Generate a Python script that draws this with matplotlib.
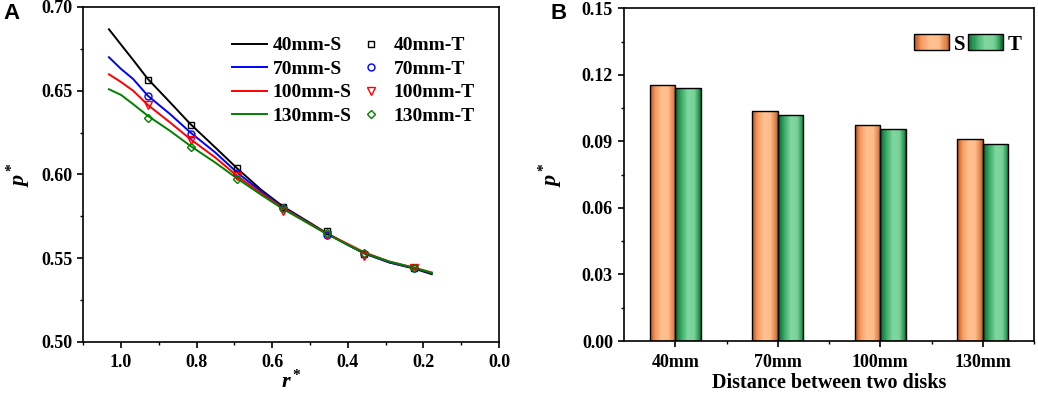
import numpy as np
import matplotlib
matplotlib.use("Agg")
import matplotlib.pyplot as plt
from matplotlib.patches import Rectangle
from matplotlib.legend_handler import HandlerBase
from matplotlib.colors import LinearSegmentedColormap
from matplotlib.ticker import MultipleLocator, FormatStrFormatter

plt.rcParams['font.family'] = ['Liberation Serif', 'DejaVu Serif']
plt.rcParams['font.weight'] = 'bold'
plt.rcParams['axes.labelweight'] = 'bold'
plt.rcParams['mathtext.fontset'] = 'custom'
plt.rcParams['mathtext.it'] = 'Liberation Serif:italic:bold'
plt.rcParams['mathtext.rm'] = 'Liberation Serif:bold'

# ---- Panel A data ----
r_line = [1.032, 1.0, 0.968, 0.929, 0.87, 0.816, 0.75, 0.692, 0.63, 0.572,
          0.51, 0.456, 0.40, 0.356, 0.29, 0.224, 0.178]
p_40_s = [0.6867, 0.6775, 0.6684, 0.657, 0.643, 0.630, 0.616, 0.6035, 0.591, 0.581,
          0.5725, 0.565, 0.558, 0.5528, 0.5475, 0.5438, 0.5405]
p_70_s = [0.670, 0.663, 0.657, 0.647, 0.636, 0.625, 0.613, 0.601, 0.590, 0.5805,
          0.572, 0.5648, 0.558, 0.553, 0.5475, 0.544, 0.5410]
p_100_s = [0.6598, 0.6552, 0.650, 0.6415, 0.631, 0.621, 0.610, 0.599, 0.589, 0.580,
           0.5718, 0.5648, 0.5585, 0.5535, 0.548, 0.5443, 0.5415]
p_130_s = [0.6509, 0.6475, 0.642, 0.635, 0.626, 0.617, 0.607, 0.5975, 0.588, 0.5795,
           0.5715, 0.5645, 0.558, 0.553, 0.548, 0.5443, 0.5413]

r_pts = [0.929, 0.816, 0.692, 0.572, 0.456, 0.356, 0.224]
p_40_t = [0.6564, 0.6296, 0.6037, 0.5806, 0.5660, 0.5528, 0.5443]
p_70_t = [0.6469, 0.6244, 0.6010, 0.5800, 0.5640, 0.5525, 0.5442]
p_100_t = [0.6413, 0.6208, 0.5990, 0.5784, 0.5637, 0.5513, 0.5440]
p_130_t = [0.6337, 0.6166, 0.5973, 0.5800, 0.5650, 0.5530, 0.5442]

# ---- Panel B data ----
distances = ['40mm', '70mm', '100mm', '130mm']
p_s = [0.1156, 0.1035, 0.0972, 0.0909]
p_t = [0.1140, 0.1018, 0.0956, 0.0890]

orange_cmap = LinearSegmentedColormap.from_list(
    'org', [(0, '#b8501c'), (0.2, '#f59a60'), (0.45, '#ffc090'), (0.7, '#ffbd8a'),
            (0.9, '#e08850'), (1, '#b85a28')])
green_cmap = LinearSegmentedColormap.from_list(
    'grn', [(0, '#06682e'), (0.25, '#3cac68'), (0.5, '#80d8a0'), (0.75, '#7ad29a'),
            (0.92, '#2e9a58'), (1, '#0a6a34')])

fig = plt.figure(figsize=(10.38, 3.93), dpi=100)
axA = fig.add_axes([0.0802, 0.1298, 0.4005, 0.8524])
axB = fig.add_axes([0.6012, 0.1323, 0.3950, 0.8466])

for ax in (axA, axB):
    for sp in ax.spines.values():
        sp.set_linewidth(1.2)
    ax.tick_params(which='major', direction='out', length=4.5, width=1.2,
                   labelsize=13, top=False, right=False)
    ax.tick_params(which='minor', direction='out', length=2.5, width=1.0,
                   top=False, right=False)
axA.tick_params(axis='x', which='major', pad=4)

# Panel A
colors = ['black', '#0000ff', '#ff0000', '#008000']
s_data = [p_40_s, p_70_s, p_100_s, p_130_s]
t_data = [p_40_t, p_70_t, p_100_t, p_130_t]
labels = ['40mm', '70mm', '100mm', '130mm']
markers = ['s', 'o', 'v', 'D']
msizes = [4.5, 5, 5.5, 4.5]
s_handles, t_handles = [], []
for c, ps, lab in zip(colors, s_data, labels):
    h, = axA.plot(r_line, ps, color=c, lw=1.4, label=lab + '-S')
    s_handles.append(h)
for c, pt, lab, m, ms in zip(colors, t_data, labels, markers, msizes):
    h, = axA.plot(r_pts, pt, ls='none', marker=m, ms=ms, mfc='none', mec=c,
                  mew=1.0, label=lab + '-T')
    t_handles.append(h)

axA.set_xlim(1.1, 0.0)
axA.set_ylim(0.50, 0.70)
axA.xaxis.set_major_locator(MultipleLocator(0.2))
axA.xaxis.set_minor_locator(MultipleLocator(0.1))
axA.yaxis.set_major_locator(MultipleLocator(0.05))
axA.yaxis.set_minor_locator(MultipleLocator(0.025))
axA.xaxis.set_major_formatter(FormatStrFormatter('%.1f'))
axA.yaxis.set_major_formatter(FormatStrFormatter('%.2f'))
axA.set_xlabel(r'$r^*$', fontsize=16, labelpad=-1)
axA.set_ylabel(r'$p^*$', fontsize=16, labelpad=6)
axA.legend(s_handles + t_handles, [h.get_label() for h in s_handles + t_handles],
           ncol=2, frameon=False, fontsize=14, loc='upper right',
           bbox_to_anchor=(0.96, 0.934), borderaxespad=0, handlelength=1.8,
           handletextpad=0.26, columnspacing=0.1, labelspacing=0.3)

# Panel B
x = np.arange(len(distances))
w = 0.25
bars_s = axB.bar(x - w / 2, p_s, width=w, facecolor='none', edgecolor='black', lw=1.0, zorder=3)
bars_t = axB.bar(x + w / 2, p_t, width=w, facecolor='none', edgecolor='black', lw=1.0, zorder=3)
grad = np.linspace(0, 1, 64).reshape(1, -1)
for bars, cmap in ((bars_s, orange_cmap), (bars_t, green_cmap)):
    for b in bars:
        x0, y0 = b.get_x(), b.get_y()
        im = axB.imshow(grad, cmap=cmap, aspect='auto', zorder=2,
                        extent=(x0, x0 + b.get_width(), y0, y0 + b.get_height()))
        im.set_clip_path(b)

axB.set_xlim(-0.5, 3.5)
axB.set_ylim(0, 0.15)
axB.set_xticks(x)
axB.set_xticklabels(distances)
axB.set_xticks(x + 0.5, minor=True)
axB.yaxis.set_major_locator(MultipleLocator(0.03))
axB.yaxis.set_minor_locator(MultipleLocator(0.015))
axB.yaxis.set_major_formatter(FormatStrFormatter('%.2f'))
axB.tick_params(axis='x', which='major', pad=5)
axB.set_xlabel('Distance between two disks', fontsize=14.5, labelpad=1)
axB.set_ylabel(r'$p^*$', fontsize=16, labelpad=12)


class GradientHandler(HandlerBase):
    def __init__(self, cmap):
        super().__init__()
        self.cmap = cmap

    def create_artists(self, legend, orig_handle, xdescent, ydescent, width,
                       height, fontsize, trans):
        n = 30
        arts = []
        for i in range(n):
            r = Rectangle((-xdescent + width * i / n, -ydescent), width / n + 0.3,
                          height, facecolor=self.cmap((i + 0.5) / n),
                          edgecolor='none', transform=trans)
            arts.append(r)
        arts.append(Rectangle((-xdescent, -ydescent), width, height,
                              facecolor='none', edgecolor='black', lw=1.0,
                              transform=trans))
        return arts


hs = Rectangle((0, 0), 1, 1)
ht = Rectangle((0, 0), 1, 1)
axB.legend([hs, ht], ['S', 'T'], ncol=2, frameon=False, fontsize=15,
           loc='upper right', bbox_to_anchor=(0.99, 0.947), borderaxespad=0,
           handler_map={hs: GradientHandler(orange_cmap), ht: GradientHandler(green_cmap)},
           handlelength=1.68, handleheight=0.82, handletextpad=0.24, columnspacing=0.1)

fig.text(0.003, 0.965, 'A', fontsize=16, fontweight='bold', family='Liberation Sans',
         va='center', ha='left')
fig.text(0.530, 0.965, 'B', fontsize=16, fontweight='bold', family='Liberation Sans',
         va='center', ha='left')

fig.savefig('out.png', dpi=100)
